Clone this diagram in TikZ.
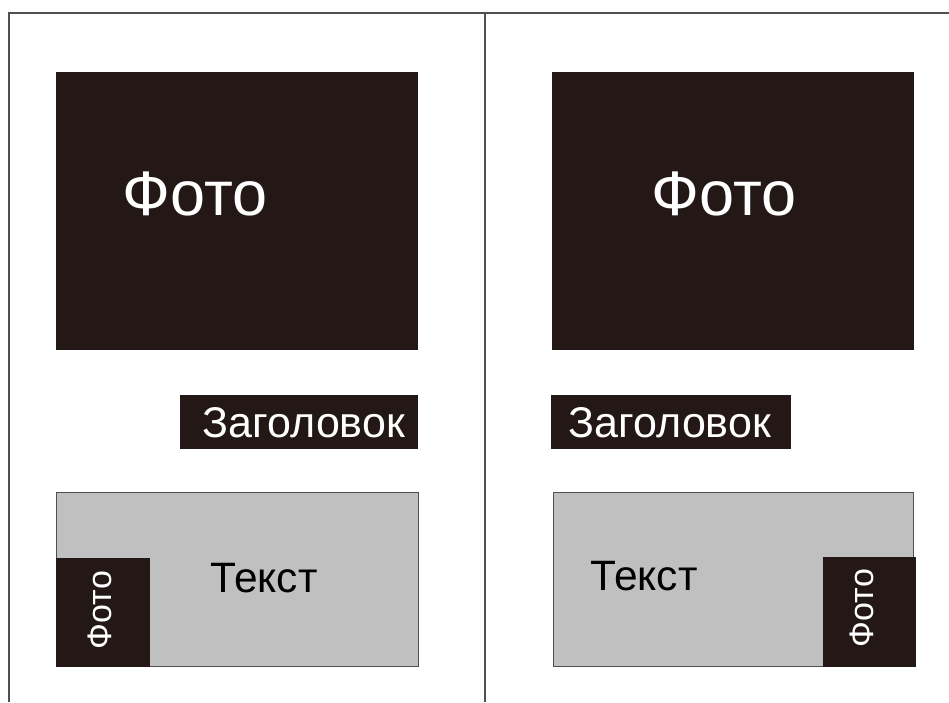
\documentclass[tikz,border=0pt]{standalone}
\usepackage{fontspec}
\setmainfont{Liberation Sans}
\definecolor{photo}{HTML}{231815}
\definecolor{textgray}{HTML}{C0C0C0}
\definecolor{frame}{HTML}{505050}

\tikzset{
  photobox/.style={fill=photo},
  textbox/.style={fill=textgray,draw=frame,line width=0.8pt},
  whitetext/.style={text=white,inner sep=0pt,anchor=base},
  blacktext/.style={text=black,inner sep=0pt,anchor=base},
}

\begin{document}
\begin{tikzpicture}[x=1pt,y=-1pt]
  \useasboundingbox (0,0) rectangle (949,702);
  % page frame
  \draw[frame,line width=1.6pt] (9,702) -- (9,13) -- (949,13);
  \draw[frame,line width=1.6pt] (485,13) -- (485,702);
  % left layout
  \fill[photobox] (56,72) rectangle (418,350);
  \node[whitetext,font=\fontsize{63}{63}\selectfont] (fotoL) at (195,215) {Фото};
  \fill[photobox] (180,395) rectangle (418,449);
  \node[whitetext,font=\fontsize{43}{43}\selectfont] (headL) at (304,437) {Заголовок};
  \filldraw[textbox] (56,492) rectangle (418,666);
  \node[blacktext,font=\fontsize{42.5}{42.5}\selectfont] (textL) at (264,592) {Текст};
  \fill[photobox] (56,558) rectangle (150,667);
  \node[whitetext,rotate=90,font=\fontsize{34}{34}\selectfont] (smallL) at (111,610) {Фото};
  % right layout
  \fill[photobox] (552,72) rectangle (914,350);
  \node[whitetext,font=\fontsize{63}{63}\selectfont] (fotoR) at (724,215) {Фото};
  \fill[photobox] (551,395) rectangle (791,449);
  \node[whitetext,font=\fontsize{43}{43}\selectfont] (headR) at (670,437) {Заголовок};
  \filldraw[textbox] (553,492) rectangle (913,666);
  \node[blacktext,font=\fontsize{42.5}{42.5}\selectfont] (textR) at (644,590) {Текст};
  \fill[photobox] (823,557) rectangle (916,667);
  \node[whitetext,rotate=90,font=\fontsize{34}{34}\selectfont] (smallR) at (873,608) {Фото};
\end{tikzpicture}
\end{document}
